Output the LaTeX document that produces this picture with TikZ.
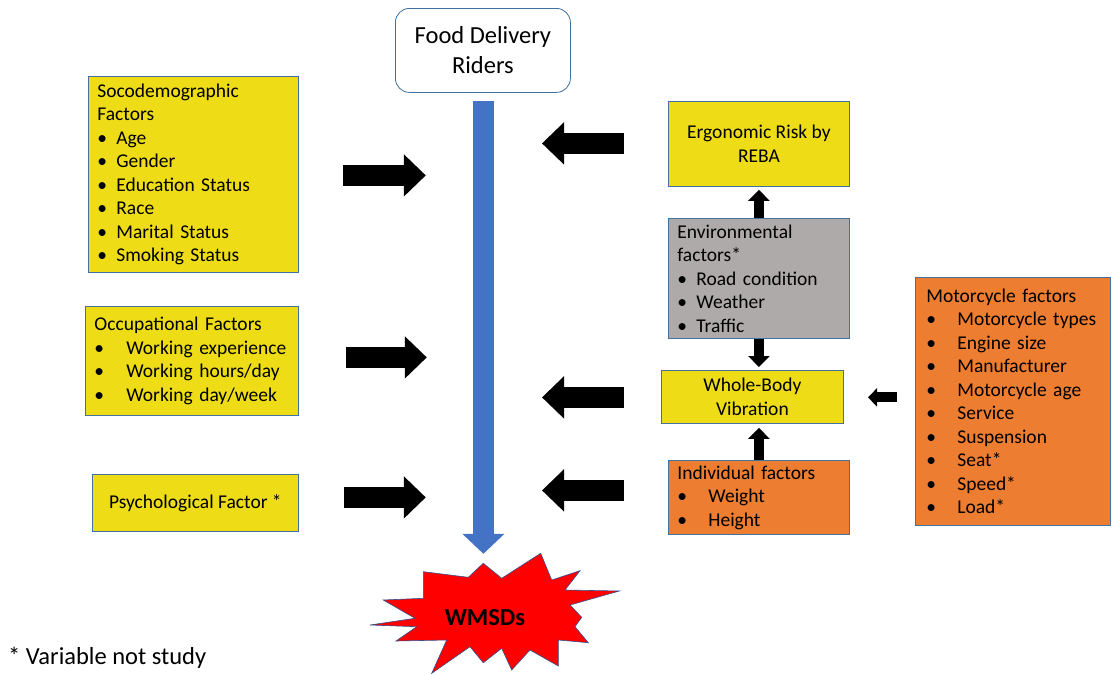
\documentclass[tikz,border=0pt]{standalone}
\usepackage{fontspec}
\setmainfont{Carlito}
\usetikzlibrary{arrows.meta,calc}
\definecolor{yfill}{RGB}{238,221,22}
\definecolor{ofill}{RGB}{237,125,49}
\definecolor{gfill}{RGB}{174,170,170}
\definecolor{bordc}{RGB}{65,113,156}
\definecolor{blueA}{RGB}{68,114,196}
\definecolor{starred}{RGB}{255,0,0}
\definecolor{starline}{RGB}{47,82,143}
\newcommand\bl[2]{\makebox[#1][l]{\textbullet}#2}
\begin{document}
\begin{tikzpicture}[x=1pt,y=-1pt,
  box/.style={draw=bordc, line width=0.8pt, inner xsep=9pt, inner ysep=0pt, align=left, anchor=north west, font=\fontsize{19.5}{23.5}\selectfont},
  cbox/.style={box, align=center},
  barrow/.style={line width=21pt, -{Triangle[length=22pt,width=41pt]}},
  varrow/.style={line width=10pt, -{Triangle[length=11pt,width=21pt]}},
  tarrow/.style={line width=10pt, -{Triangle[length=9pt,width=18pt]}},
  bluearrow/.style={draw=blueA, line width=21pt, -{Triangle[length=20pt,width=41pt]}}
]
\useasboundingbox (0,0) rectangle (1112,675);

% left boxes
\node[box, fill=yfill, text width=192pt, minimum height=196pt] (soc) at (88,76)
 {Socodemographic\\Factors\\\bl{19pt}{Age}\\\bl{19pt}{Gender}\\\bl{19pt}{Education Status}\\\bl{19pt}{Race}\\\bl{19pt}{Marital Status}\\\bl{19pt}{Smoking Status}};
\node[box, fill=yfill, text width=195pt, minimum height=109pt] (occ) at (85,306)
 {Occupational Factors\\\bl{32pt}{Working experience}\\\bl{32pt}{Working hours/day}\\\bl{32pt}{Working day/week}};
\node[cbox, fill=yfill, minimum width=206pt, minimum height=57pt] (psy) at (92,474)
 {Psychological Factor *};

% top
\node[cbox, fill=white, rounded corners=14pt, minimum width=175pt, minimum height=84pt, font=\fontsize{24.5}{30}\selectfont] (riders) at (395,8)
 {Food Delivery\\Riders};

% right column
\node[cbox, fill=yfill, minimum width=181pt, minimum height=85pt] (ergo) at (668,101)
 {Ergonomic Risk by\\REBA};
\node[box, fill=gfill, text width=163pt, minimum height=120pt] (env) at (668,218)
 {Environmental\\factors*\\\bl{19pt}{Road condition}\\\bl{19pt}{Weather}\\\bl{19pt}{Traffic}};
\node[cbox, fill=yfill, minimum width=182pt, minimum height=53pt] (wbv) at (661,370)
 {Whole-Body\\Vibration};
\node[box, fill=ofill, text width=163pt, minimum height=74pt] (indiv) at (668,460)
 {Individual factors\\\bl{31pt}{Weight}\\\bl{31pt}{Height}};
\node[box, fill=ofill, inner xsep=11pt, text width=173pt, minimum height=248pt] (moto) at (915,277)
 {Motorcycle factors\\\bl{31pt}{Motorcycle types}\\\bl{31pt}{Engine size}\\\bl{31pt}{Manufacturer}\\\bl{31pt}{Motorcycle age}\\\bl{31pt}{Service}\\\bl{31pt}{Suspension}\\\bl{31pt}{Seat*}\\\bl{31pt}{Speed*}\\\bl{31pt}{Load*}};

% starburst
\filldraw[fill=starred, draw=starline, line width=0.6pt]
 (483.3,563.3) -- (501.7,578.3) -- (540.7,553.3) -- (551.7,580) -- (580,570.7) -- (565,590)
 -- (619.3,591) -- (570,605) -- (581.7,617.3) -- (575,626.7) -- (588.3,642.7) -- (558.3,640)
 -- (558.3,666) -- (530,650) -- (511.7,670) -- (501.7,648.3) -- (483.3,662.7) -- (470,646.7)
 -- (431.7,673.3) -- (446.7,640) -- (396,641) -- (416.7,626.7) -- (370,625) -- (415,618.3)
 -- (383.3,600) -- (423.3,598.3) -- (423.3,571.7) -- (468.3,577.3) -- cycle;
\node[font=\bfseries\fontsize{24.5}{30}\selectfont] (wmsd) at (485,618) {WMSDs};

% blue arrow
\draw[bluearrow] ($(riders.south)+(0.5,8)$) -- ($(riders.south)+(0.5,461)$);

% black block arrows
\draw[barrow] ($(soc.east)+(44,1)$) -- ($(soc.east)+(127,1)$);
\draw[barrow] ($(occ.east)+(47,-3.5)$) -- ($(occ.east)+(128,-3.5)$);
\draw[barrow] ($(psy.east)+(45,-5.5)$) -- ($(psy.east)+(127,-5.5)$);
\draw[barrow] ($(ergo.west)+(-44,-0.5)$) -- ($(ergo.west)+(-126,-0.5)$);
\draw[barrow] ($(wbv.west)+(-37,0.5)$) -- ($(wbv.west)+(-119,0.5)$);
\draw[barrow] ($(indiv.west)+(-44,-7)$) -- ($(indiv.west)+(-126,-7)$);
\draw[tarrow] ($(moto.west)+(-18,-4)$) -- ($(moto.west)+(-47,-4)$);

% vertical arrows
\draw[varrow, shorten >=3pt] (env.north) -- (ergo.south);
\draw[varrow, shorten >=3pt] (env.south) -- (env.south |- wbv.north);
\draw[varrow, shorten >=4pt] (indiv.north) -- (indiv.north |- wbv.south);

% footnote
\node[anchor=base west, inner sep=0pt, font=\fontsize{24.5}{30}\selectfont] (note) at (8,664) {* Variable not study};
\end{tikzpicture}
\end{document}
